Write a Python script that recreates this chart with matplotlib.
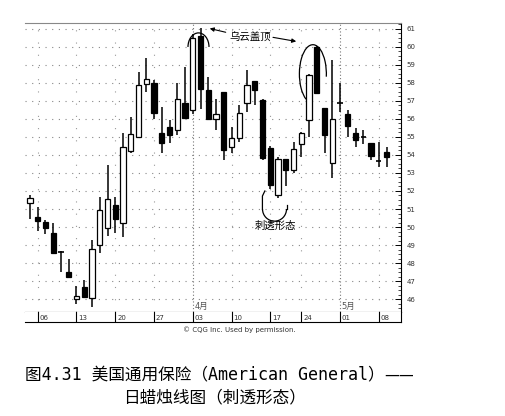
import matplotlib
matplotlib.use('Agg')
import matplotlib.pyplot as plt
from matplotlib.patches import Arc, Rectangle
from matplotlib.ticker import MultipleLocator

# daily prices, American General (one entry per trading day)
opens = [51.35, 50.57, 50.30, 49.65, 48.63, 47.48, 45.98, 46.68, 46.04, 49.00,
         49.93, 51.22, 50.24, 54.22, 55.02, 57.94, 57.98, 55.24, 55.57, 55.39,
         56.87, 56.50, 60.61, 57.61, 55.98, 57.52, 54.46, 54.93, 56.87, 58.11,
         57.06, 54.37, 51.80, 53.75, 53.17, 54.59, 55.94, 59.98, 56.60, 53.54,
         56.91, 56.26, 55.20, 54.98, 54.68, 53.68, 54.18]
highs = [51.78, 51.13, 50.39, 50.24, 48.65, 48.20, 46.72, 47.05, 49.28, 51.68,
         53.44, 51.68, 55.24, 56.13, 58.63, 59.37, 58.17, 56.65, 55.94, 57.98,
         58.87, 60.72, 61.04, 58.35, 57.09, 57.52, 55.57, 56.78, 58.72, 58.11,
         57.09, 54.50, 53.90, 53.80, 54.74, 55.25, 58.50, 60.05, 56.60, 59.28,
         57.98, 56.50, 55.48, 55.39, 54.68, 54.74, 54.46]
lows = [50.43, 49.78, 49.60, 48.54, 47.52, 47.20, 45.72, 46.07, 45.57, 48.57,
        49.50, 49.68, 49.46, 54.10, 54.95, 57.52, 55.98, 54.13, 54.65, 55.11,
        55.98, 56.28, 56.54, 55.98, 55.39, 53.72, 54.09, 54.74, 56.41, 56.78,
        53.72, 52.10, 51.60, 52.25, 52.98, 53.90, 55.02, 57.43, 54.09, 52.70,
        56.41, 55.02, 54.46, 54.61, 53.72, 53.35, 53.35]
closes = [51.63, 50.33, 49.93, 48.54, 48.63, 47.20, 46.17, 46.13, 48.76, 50.94,
          51.54, 50.43, 54.43, 55.15, 57.89, 58.20, 56.35, 54.68, 55.11, 57.09,
          56.07, 60.48, 57.65, 55.98, 56.26, 54.28, 54.93, 56.35, 57.89, 57.61,
          53.81, 52.35, 53.75, 53.17, 54.31, 55.20, 58.44, 57.43, 55.11, 55.98,
          56.91, 55.61, 54.83, 54.98, 53.94, 53.68, 53.90]

week_idx = [1, 6, 11, 16, 21, 26, 31, 35, 40, 45]
week_labels = ['06', '13', '20', '27', '03', '10', '17', '24', '01', '08']
month_idx = [21, 40]
month_labels = ['4月', '5月']
price_ticks = list(range(46, 62))

cjk = ['Noto Sans CJK SC', 'DejaVu Sans']
plt.rcParams['font.family'] = ['DejaVu Sans', 'Noto Sans CJK SC']

W, H = 505, 416
fig = plt.figure(figsize=(W / 100, H / 100), dpi=100)
ax = fig.add_axes([25 / W, 104 / H, 376 / W, 289 / H])
band = fig.add_axes([25 / W, 94 / H, 376 / W, 10 / H], sharex=ax)

# grid: dotted rows at every dollar, dotted columns at each week
for p in price_ticks:
    ax.axhline(p, color='#888888', lw=0.8, ls=(0, (1, 5)), zorder=0)
for i in week_idx:
    if i in month_idx:
        ax.axvline(i, color='#777777', lw=0.8, ls=(0, (1, 2)), zorder=0)
    else:
        ax.axvline(i, color='#999999', lw=0.8, ls=(0, (1, 10)), zorder=0)

# candles
bw = 0.66
for i in range(len(opens)):
    o, h, l, c = opens[i], highs[i], lows[i], closes[i]
    ax.vlines(i, l, h, color='black', lw=1.1, zorder=2)
    if abs(c - o) < 0.02:
        ax.hlines(o, i - bw / 2, i + bw / 2, color='black', lw=1.2, zorder=3)
    else:
        face = 'white' if c > o else 'black'
        ax.add_patch(Rectangle((i - bw / 2, min(o, c)), bw, abs(c - o),
                               facecolor=face, edgecolor='black', lw=0.9, zorder=3))

ax.set_xlim(-0.645, 47.87)
ax.set_ylim(45.28, 61.33)

ax.yaxis.tick_right()
ax.set_yticks(price_ticks)
ax.yaxis.set_minor_locator(MultipleLocator(0.25))
ax.tick_params(axis='y', which='major', direction='in', length=4, width=0.7,
               labelsize=5, pad=4, labelcolor='#333333')
ax.tick_params(axis='y', which='minor', direction='in', length=2, width=0.5)
ax.tick_params(axis='x', bottom=False, labelbottom=False)
ax.spines['left'].set_visible(False)
ax.spines['top'].set_color('#888888')
ax.spines['top'].set_linewidth(0.8)
ax.spines['right'].set_linewidth(0.8)
ax.spines['bottom'].set_linewidth(0.8)

for i, lab in zip(month_idx, month_labels):
    ax.text(i + 0.2, 45.33, lab, fontsize=6, color='#555555', ha='left', va='bottom')

# date band under the chart
band.set_yticks([])
band.tick_params(axis='x', bottom=False, labelbottom=False)
band.spines['left'].set_visible(False)
band.spines['top'].set_visible(False)
band.spines['right'].set_linewidth(0.8)
band.spines['bottom'].set_linewidth(0.8)
for i, lab in zip(week_idx, week_labels):
    band.axvline(i, color='black', lw=0.8)
    band.text(i + 0.25, 0.45, lab, fontsize=5, color='#333333', ha='left', va='center')

# annotations
ax.text(28.4, 60.5, '乌云盖顶', fontsize=7.5, ha='center', va='center', family=cjk)
ax.annotate('', xy=(22.84, 61.06), xytext=(25.6, 60.78),
            arrowprops=dict(arrowstyle='-|>', color='black', lw=0.8, mutation_scale=6))
ax.annotate('', xy=(34.7, 60.28), xytext=(31.0, 60.56),
            arrowprops=dict(arrowstyle='-|>', color='black', lw=0.8, mutation_scale=6))
ax.add_patch(Arc((21.74, 60.0), 2.71, 1.56, theta1=0, theta2=180, color='black', lw=0.9, zorder=4))
ax.add_patch(Arc((36.5, 58.5), 3.48, 3.25, theta1=-5, theta2=238, color='black', lw=0.9, zorder=4))
ax.add_patch(Arc((31.55, 51.0), 3.1, 1.35, theta1=180, theta2=360, color='black', lw=0.9, zorder=4))
ax.plot([29.99, 29.99, 30.3], [51.0, 51.72, 52.0], color='black', lw=0.9, zorder=4)
ax.plot([33.1, 33.1], [51.0, 51.2], color='black', lw=0.9, zorder=4)
ax.text(31.74, 50.06, '刺透形态', fontsize=7.5, ha='center', va='center', family=cjk)

fig.text(239 / W, 1 - 330 / H, '© CQG Inc. Used by permission.', fontsize=5,
         ha='center', va='center', color='#333333')

cap_font = ['DejaVu Sans Mono', 'Noto Sans CJK SC']
fig.text(25 / W, 1 - 375 / H, '图4.31 美国通用保险（American General）',
         fontsize=12, ha='left', va='center', family=cap_font)
fig.text(384 / W, 1 - 375 / H, '——', fontsize=12, ha='left', va='center', family=cjk)
fig.text(123 / W, 1 - 397 / H, '日蜡烛线图（刺透形态）',
         fontsize=12, ha='left', va='center', family=cap_font)

fig.savefig('out.png', dpi=100)
